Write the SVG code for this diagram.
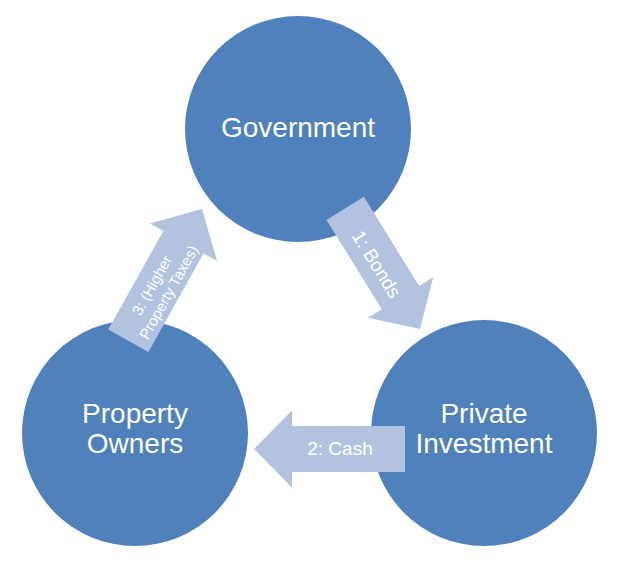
<svg xmlns="http://www.w3.org/2000/svg" width="622" height="567" viewBox="0 0 622 567">
  <defs>
    <style>
      .node { fill: #4F81BD; }
      .lbl { font-family: "Liberation Sans", Arial, sans-serif; font-size: 28px; fill: #FFFFFF; text-anchor: middle; }
      .arrow { fill: #B3C3DF; }
      .alab { font-family: "Liberation Sans", Arial, sans-serif; font-size: 19px; fill: #FFFFFF; text-anchor: middle; }
    </style>
    <polygon id="arr" points="0,0 -38,-38.5 -38,-23 -151,-23 -151,23 -38,23 -38,38.5"/>
    <polygon id="arrShort" points="0,0 -37,-38.5 -37,-22 -142,-22 -142,22 -37,22 -37,38.5"/>
  </defs>
  <rect width="622" height="567" fill="#FFFFFF"/>
  <g id="government">
    <circle class="node" cx="298" cy="129" r="113"/>
    <text class="lbl" x="298" y="137">Government</text>
  </g>
  <g id="property-owners">
    <circle class="node" cx="135" cy="433" r="113"/>
    <text class="lbl" x="135" y="423">Property</text>
    <text class="lbl" x="135" y="453">Owners</text>
  </g>
  <g id="private-investment">
    <circle class="node" cx="484" cy="433" r="113"/>
    <text class="lbl" x="484" y="423">Private</text>
    <text class="lbl" x="484" y="453">Investment</text>
  </g>
  <g id="connectors">
    <g id="bonds">
      <use href="#arrShort" class="arrow" transform="translate(420,329) rotate(58.2)"/>
      <text class="alab" transform="translate(377,264) rotate(58.2)" y="7">1: Bonds</text>
    </g>
    <g id="cash">
      <use href="#arr" class="arrow" transform="translate(254,449) rotate(180)"/>
      <text class="alab" x="340" y="455">2: Cash</text>
    </g>
    <g id="taxes">
      <use href="#arr" class="arrow" transform="translate(202,209) rotate(-60.8)"/>
      <text class="alab" style="font-size:15px" transform="translate(161,288) rotate(-60.8)">
        <tspan x="0" y="-4">3: (Higher</tspan>
        <tspan x="0" y="14">Property Taxes)</tspan>
      </text>
    </g>
  </g>
</svg>
